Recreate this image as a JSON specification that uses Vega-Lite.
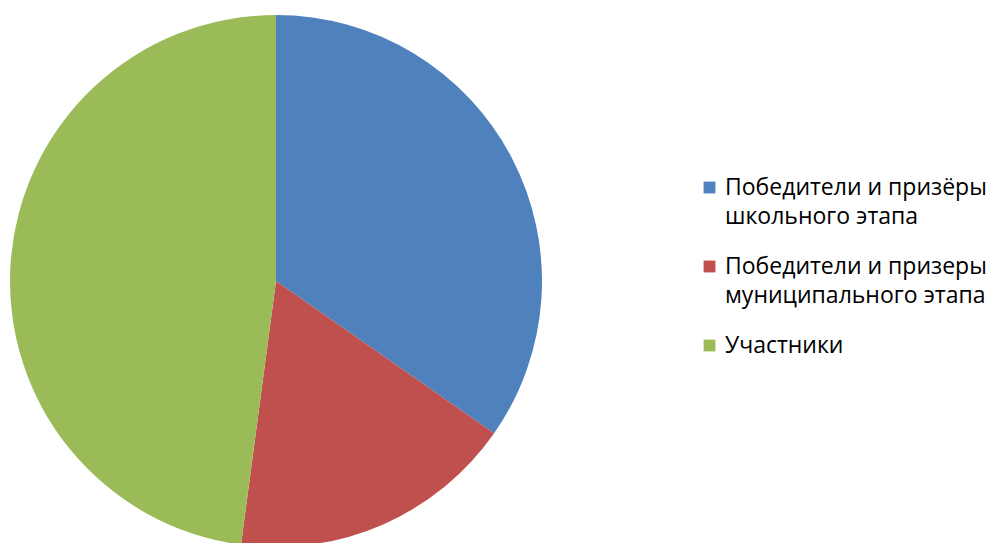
{
  "$schema": "https://vega.github.io/schema/vega-lite/v6.json",
  "width": 552,
  "height": 532,
  "padding": {"left": 0, "top": 15, "right": 439, "bottom": 0},
  "autosize": {"type": "none"},
  "background": "white",
  "data": {
    "values": [
      {"category": "Победители и призёры\nшкольного этапа", "value": 34.7, "order": 1},
      {"category": "Победители и призеры\nмуниципального этапа", "value": 17.4, "order": 2},
      {"category": "Участники", "value": 47.9, "order": 3}
    ]
  },
  "mark": {"type": "arc", "outerRadius": 266},
  "encoding": {
    "theta": {"field": "value", "type": "quantitative", "stack": true},
    "order": {"field": "order", "type": "quantitative"},
    "color": {
      "field": "category",
      "type": "nominal",
      "sort": null,
      "scale": {
        "domain": ["Победители и призёры\nшкольного этапа", "Победители и призеры\nмуниципального этапа", "Участники"],
        "range": ["#4F81BD", "#C0504D", "#9BBB59"]
      },
      "legend": {
        "title": null,
        "orient": "none",
        "legendX": 698,
        "legendY": 161,
        "symbolType": "square",
        "symbolSize": 140,
        "symbolStrokeWidth": 0,
        "labelFont": "Open Sans",
        "labelFontSize": 23,
        "labelColor": "#000000",
        "labelLimit": 400,
        "labelOffset": 4,
        "labelExpr": "split(datum.label, '\\n')",
        "labelBaseline": "middle",
        "rowPadding": 26,
        "encode": {"labels": {"update": {"lineHeight": {"value": 29}}}}
      }
    }
  },
  "config": {"view": {"stroke": null}}
}
